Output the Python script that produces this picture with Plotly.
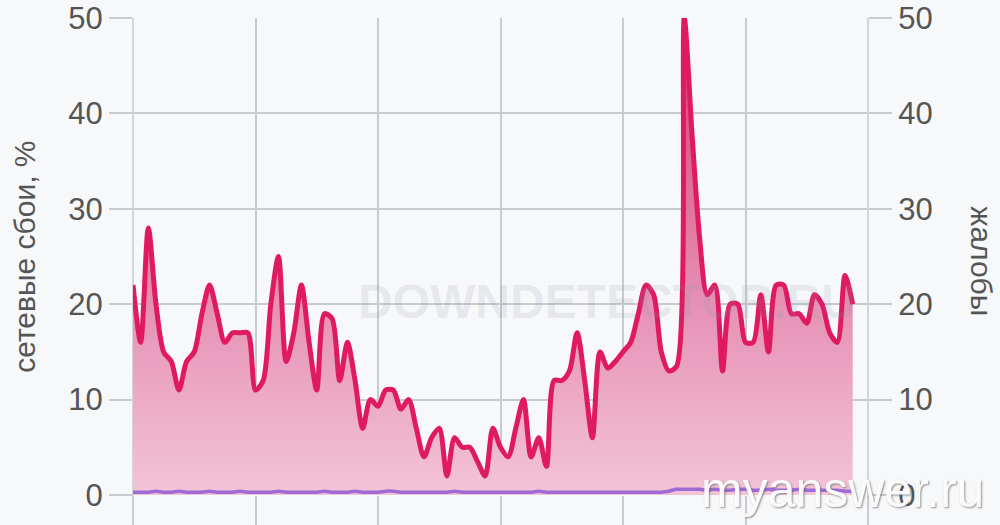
import pandas as pd
import plotly.graph_objects as go

# ---- data -------------------------------------------------------------
start_time = "2021-01-01 00:00"
step = "15min"

outages_pct = [
    22, 16, 28, 20, 15, 14, 11, 14, 15, 19,
    22, 19, 16, 17, 17, 17, 11, 12, 20, 25,
    14, 17, 22, 16, 11, 19, 18.5, 12, 16, 12,
    7, 10, 9.3, 11, 11, 9, 10, 7, 4, 6,
    7, 2, 6, 5, 5, 3.5, 2, 7, 5, 4,
    7, 10, 4, 6, 3, 12, 12, 13, 17, 12,
    6, 15, 13.3, 14, 15, 16, 19, 22, 21, 15,
    13, 13.5, 50, 38, 27, 21, 22, 13, 20, 20,
    16, 16, 21, 15, 22, 22, 19, 19, 18, 21,
    20, 17, 16, 23, 20,
]

complaints = [
    0.3, 0.3, 0.3, 0.4, 0.3, 0.3, 0.4, 0.3, 0.3, 0.3,
    0.4, 0.3, 0.3, 0.3, 0.4, 0.3, 0.3, 0.3, 0.3, 0.4,
    0.3, 0.3, 0.3, 0.3, 0.3, 0.4, 0.3, 0.3, 0.3, 0.4,
    0.3, 0.3, 0.3, 0.4, 0.4, 0.3, 0.3, 0.3, 0.3, 0.3,
    0.3, 0.3, 0.4, 0.3, 0.3, 0.3, 0.3, 0.3, 0.3, 0.3,
    0.3, 0.3, 0.3, 0.4, 0.3, 0.3, 0.3, 0.3, 0.3, 0.3,
    0.3, 0.3, 0.3, 0.3, 0.3, 0.3, 0.3, 0.3, 0.3, 0.3,
    0.4, 0.6, 0.6, 0.6, 0.6, 0.5, 0.6, 0.5, 0.5, 0.6,
    0.6, 0.5, 0.5, 0.6, 0.5, 0.5, 0.5, 0.6, 0.5, 0.5,
    0.5, 0.5, 0.5, 0.4, 0.4,
]

y_ticks = [0, 10, 20, 30, 40, 50]
left_title = "сетевые сбои, %"
right_title = "жалобы"
watermark_text = "DOWNDETECTOR.RU"
credit_text = "myanswer.ru"

# ---- figure -----------------------------------------------------------
times = pd.date_range(start=start_time, periods=len(outages_pct), freq=step)
x_start = pd.Timestamp(start_time)
x_end = x_start + pd.Timedelta(hours=24)

BG = "#f7f8fa"
GRID = "#c9cacf"
LINE = "#e01a60"
TICKFONT = dict(family="Liberation Sans, Arial, sans-serif", size=31, color="#555555")

fig = go.Figure()

fig.add_trace(go.Scatter(
    x=times, y=outages_pct, mode="lines",
    line=dict(color=LINE, width=5, shape="spline", smoothing=0.8),
    fill="tozeroy",
    fillgradient=dict(
        type="vertical", start=0, stop=50,
        colorscale=[[0, "#f3c4d7"], [0.4, "#e691b4"], [1, "#d63a74"]],
    ),
    hoverinfo="skip", showlegend=False,
))

fig.add_trace(go.Scatter(
    x=times, y=complaints, mode="lines", yaxis="y2",
    line=dict(color="#9d6ad8", width=3.5, shape="spline"),
    hoverinfo="skip", showlegend=False,
))

axis_common = dict(
    range=[0, 50], tickvals=y_ticks, showline=False, zeroline=False,
    ticks="outside", ticklen=23, tickwidth=1.5, tickcolor=GRID,
    tickfont=TICKFONT, automargin=False,
)

fig.update_layout(
    width=1000, height=525,
    margin=dict(l=133, r=132, t=18, b=30, autoexpand=False),
    paper_bgcolor=BG, plot_bgcolor=BG,
    xaxis=dict(
        range=[x_start, x_end], dtick=4 * 3600 * 1000, tick0=x_start,
        showgrid=True, gridcolor=GRID, gridwidth=1.5,
        showticklabels=False, ticks="outside", ticklen=30, tickwidth=1.5,
        tickcolor=GRID, zeroline=False, showline=False, automargin=False,
    ),
    yaxis=dict(showgrid=True, gridcolor=GRID, gridwidth=1.5, **axis_common),
    yaxis2=dict(overlaying="y", side="right", showgrid=False, **axis_common),
    font=dict(family="Liberation Sans, Arial, sans-serif"),
)

# vertical border lines of the plot area
fig.add_shape(type="line", xref="paper", yref="paper", x0=0, x1=0, y0=-0.07, y1=1,
              line=dict(color=GRID, width=1.5), layer="below")
fig.add_shape(type="line", xref="paper", yref="paper", x0=1, x1=1, y0=-0.07, y1=1,
              line=dict(color=GRID, width=1.5), layer="below")

annotations = [
    dict(text=left_title, xref="paper", yref="paper", x=-0.148, y=0.5,
         xanchor="center", yanchor="middle", textangle=-90, showarrow=False,
         font=dict(size=30, color="#555555")),
    dict(text=right_title, xref="paper", yref="paper", x=1.155, y=0.49,
         xanchor="center", yanchor="middle", textangle=90, showarrow=False,
         font=dict(size=30, color="#555555")),
    dict(text="<b>" + watermark_text + "</b>", xref="paper", yref="paper",
         x=0.645, y=0.405, xanchor="center", yanchor="middle", showarrow=False,
         font=dict(size=48, color="rgba(140,150,170,0.17)")),
    dict(text=credit_text, xref="paper", yref="paper", x=1.16, y=0.01,
         xanchor="right", yanchor="middle", showarrow=False,
         font=dict(size=50, color="rgba(255,255,255,0.95)",
                   shadow="1px 1px 2px rgba(90,90,90,0.7)")),
]
fig.update_layout(annotations=annotations)

fig.write_html(
    "out.html",
    config={"displayModeBar": False},
    post_script="document.body.style.margin='0';document.body.style.background='#f7f8fa';",
)
